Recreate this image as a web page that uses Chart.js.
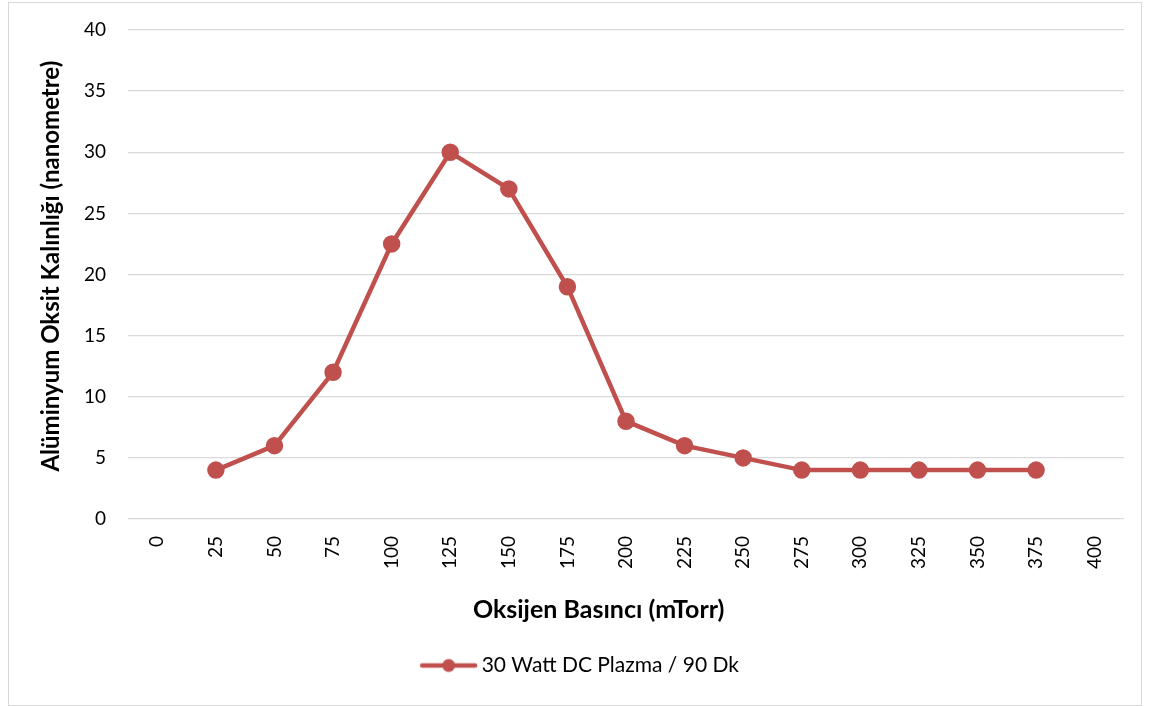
<!DOCTYPE html>
<html>
<head>
<meta charset="utf-8">
<script src="https://cdn.jsdelivr.net/npm/chart.js@4.4.0/dist/chart.umd.min.js"></script>
<style>
    body { margin: 0; background: #fff; }
    #wrap { position: relative; width: 1149px; height: 706px; }
    #frame { position: absolute; left: 8px; top: 2px; width: 1132px; height: 702px; border: 1px solid #d9d9d9; pointer-events: none; }
    canvas { position: absolute; left: 0; top: 0; }
</style>
</head>
<body>
<div id="wrap">
    <canvas id="myChart" width="1149" height="706"></canvas>
    <div id="frame"></div>
</div>
<script>
// x categories (mTorr) and measured oxide thickness (nm)
const pressures = ['0', '25', '50', '75', '100', '125', '150', '175', '200', '225', '250', '275', '300', '325', '350', '375', '400'];
const thickness = [null, 4, 6, 12, 22.5, 30, 27, 19, 8, 6, 5, 4, 4, 4, 4, 4, null];
const seriesName = '30 Watt DC Plazma / 90 Dk';
const xTitle = 'Oksijen Basıncı (mTorr)';
const yTitle = 'Alüminyum Oksit Kalınlığı (nanometre)';
const yMin = 0;
const yMax = 40;
const yStep = 5;

const red = '#c0504d';
const fontName = 'Lato, "Open Sans", sans-serif';
const nb = '\u00a0';

// legend marker: line with a dot in the middle, shifted a bit towards the text
const marker = document.createElement('canvas');
marker.width = 64;
marker.height = 16;
const mctx = marker.getContext('2d');
mctx.strokeStyle = red;
mctx.lineWidth = 4.5;
mctx.lineCap = 'round';
mctx.beginPath();
mctx.moveTo(8, 8);
mctx.lineTo(61, 8);
mctx.stroke();
mctx.fillStyle = red;
mctx.beginPath();
mctx.arc(34.5, 8, 6.5, 0, Math.PI * 2);
mctx.fill();

// legend is centred on the whole frame, not on the plot width
const legendShift = {
    id: 'legendShift',
    afterLayout(c) {
        if (c.legend) {
            c.legend.left += 18;
            c.legend.right += 18;
        }
    }
};

const chart = new Chart(document.getElementById('myChart'), {
    type: 'line',
    data: {
        labels: pressures,
        datasets: [{
            label: seriesName,
            data: thickness,
            borderColor: red,
            backgroundColor: red,
            borderWidth: 4.5,
            pointRadius: 6.5,
            pointHoverRadius: 6.5,
            pointBackgroundColor: red,
            pointBorderColor: red,
            tension: 0,
            spanGaps: false
        }]
    },
    plugins: [legendShift],
    options: {
        responsive: false,
        animation: false,
        layout: { padding: { top: 30, right: 25, left: 0, bottom: 20 } },
        plugins: {
            tooltip: { enabled: false },
            legend: {
                position: 'bottom',
                labels: {
                    usePointStyle: true,
                    pointStyleWidth: 50,
                    color: '#000',
                    font: { family: fontName, size: 21 },
                    padding: 10,
                    generateLabels: (c) => [{
                        text: seriesName,
                        pointStyle: marker,
                        fillStyle: red,
                        strokeStyle: red,
                        lineWidth: 0,
                        datasetIndex: 0
                    }]
                }
            }
        },
        scales: {
            x: {
                offset: true,
                grid: { display: false, drawTicks: false },
                border: { display: false },
                ticks: {
                    color: '#000',
                    font: { family: fontName, size: 19 },
                    maxRotation: 90,
                    minRotation: 90,
                    padding: 17,
                    autoSkip: false
                },
                title: {
                    display: true,
                    // trailing spaces nudge the title left like the original
                    text: xTitle + nb.repeat(9),
                    color: '#000',
                    font: { family: fontName, size: 25, weight: 'bold' },
                    padding: { top: 0, bottom: 20 }
                },
                afterFit: (scale) => { scale.height = 126; }
            },
            y: {
                min: yMin,
                max: yMax,
                grid: {
                    color: '#d9d9d9',
                    lineWidth: 1.3,
                    drawTicks: true,
                    tickLength: 14,
                    tickColor: 'rgba(0,0,0,0)'
                },
                border: { display: false },
                ticks: {
                    stepSize: yStep,
                    color: '#000',
                    font: { family: fontName, size: 19 },
                    padding: 8
                },
                title: {
                    display: true,
                    text: nb.repeat(3) + yTitle,
                    color: '#000',
                    font: { family: fontName, size: 24, weight: 'bold' },
                    padding: { top: 37, bottom: 0 }
                },
                afterFit: (scale) => { scale.width = 128; }
            }
        }
    }
});
</script>
</body>
</html>
